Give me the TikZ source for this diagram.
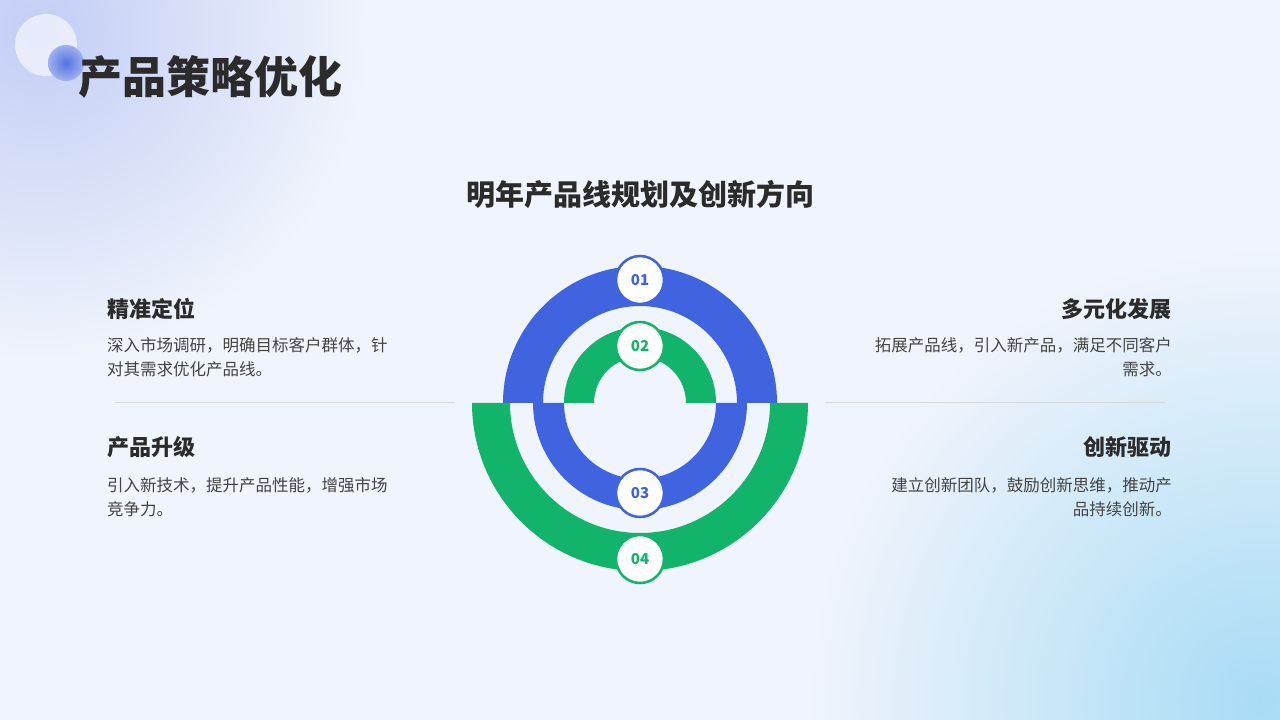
\documentclass[tikz,border=0pt]{standalone}
\usepackage{fontspec}
\setmainfont{Noto Sans CJK SC}
\definecolor{bg}{HTML}{F0F4FC}
\definecolor{cblue}{HTML}{4063E0}
\definecolor{cgreen}{HTML}{12B36B}
\definecolor{txt}{HTML}{2B2B2B}
\definecolor{body}{HTML}{444444}
\definecolor{tl}{HTML}{C3CEF5}
\definecolor{br}{HTML}{A8DCF5}
\tikzset{
  badge/.style={circle,draw=#1,line width=2.5pt,fill=white,minimum size=48pt,inner sep=0pt,text=#1,font=\fontsize{15}{15}\selectfont\bfseries},
  head/.style={font=\fontsize{22}{22}\selectfont\bfseries,text=txt,inner sep=0pt},
  bodyl/.style={font=\fontsize{16.5}{24}\selectfont,text=body,inner sep=0pt,align=left,anchor=north west},
  bodyr/.style={font=\fontsize{16.5}{24}\selectfont,text=body,inner sep=0pt,align=right,anchor=north east},
}
\begin{document}
\begin{tikzpicture}[x=1pt,y=1pt]
\useasboundingbox (0,0) rectangle (1280,720);
\fill[bg] (0,0) rectangle (1280,720);
\begin{scope}
\clip (0,0) rectangle (1280,720);
\shade[inner color=tl,outer color=bg] (40,690) circle (330);
\shade[inner color=br,outer color=bg] (1260,20) circle (450);
\end{scope}
\fill[white,opacity=0.6] (46,675) circle (31);
\shade[inner color=cblue!90,outer color=cblue!50] (66,657) circle (18);
\node[anchor=west,inner sep=0pt,font=\fontsize{44}{44}\selectfont\bfseries,text=txt] (title) at (78,643) {产品策略优化};
\node[inner sep=0pt,font=\fontsize{29}{29}\selectfont\bfseries,text=txt] (sub) at (640,526) {明年产品线规划及创新方向};
\fill[cblue] (640+137,317) arc (0:180:137) -- (640-97,317) arc (180:0:97) -- cycle;
\fill[cgreen] (640+168,317) arc (0:-180:168) -- (640-130,317) arc (-180:0:130) -- cycle;
\fill[cblue] (640+107,317) arc (0:-180:107) -- (640-76,317) arc (-180:0:76) -- cycle;
\fill[cgreen] (640+76,317) arc (0:180:76) -- (640-46,317) arc (180:0:46) -- cycle;
\node[badge=cblue] (b1) at (640,440) {01};
\node[badge=cgreen] (b2) at (640,374) {02};
\node[badge=cblue] (b3) at (640,227) {03};
\node[badge=cgreen] (b4) at (640,161) {04};
\draw[gray!30,line width=0.8pt] (115,318) -- (455,318);
\draw[gray!30,line width=0.8pt] (825,318) -- (1165,318);
\node[head,anchor=west] (h1) at (107,411) {精准定位};
\node[bodyl] (t1) at (107,383) {深入市场调研，明确目标客户群体，针\\对其需求优化产品线。};
\node[head,anchor=west] (h2) at (107,273) {产品升级};
\node[bodyl] (t2) at (107,243) {引入新技术，提升产品性能，增强市场\\竞争力。};
\node[head,anchor=east] (h3) at (1172,411) {多元化发展};
\node[bodyr] (t3) at (1172,383) {拓展产品线，引入新产品，满足不同客户\\需求。};
\node[head,anchor=east] (h4) at (1172,273) {创新驱动};
\node[bodyr] (t4) at (1172,243) {建立创新团队，鼓励创新思维，推动产\\品持续创新。};
\end{tikzpicture}
\end{document}
